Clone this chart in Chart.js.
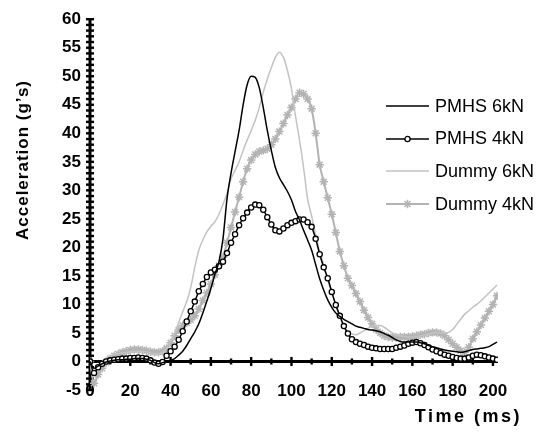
<!DOCTYPE html>
<html><head><meta charset="utf-8">
<script src="https://cdn.jsdelivr.net/npm/chart.js@4.4.1/dist/chart.umd.min.js"></script>
<style>
html,body{margin:0;padding:0;background:#fff;}
#wrap{position:relative;width:538px;height:433px;overflow:hidden;font-family:"Liberation Sans",Arial,sans-serif;color:#000;}
#c{position:absolute;left:0;top:0;}
#ytitle{position:absolute;left:23px;top:160px;transform:translate(-50%,-50%) rotate(-90deg);white-space:nowrap;font-weight:bold;font-size:17px;letter-spacing:1px;}
#xtitle{position:absolute;right:16px;top:406px;font-weight:bold;font-size:18px;letter-spacing:2.5px;white-space:nowrap;}
.leg{position:absolute;left:386px;height:22px;display:flex;align-items:center;font-size:18px;white-space:nowrap;}
.leg svg{margin-right:6px;}
</style></head>
<body>
<div id="wrap">
<canvas id="c" width="538" height="433"></canvas>
<div id="ytitle">Acceleration (g’s)</div>
<div id="xtitle">Time (ms)</div>
<div id="legend"></div>
</div>
<script>
// ---- data ----
const seriesNames = ['PMHS 6kN', 'PMHS 4kN', 'Dummy 6kN', 'Dummy 4kN'];
const timeMs = [
  0,2,4,6,8,10,12,14,16,18,
  20,22,24,26,28,30,32,34,36,38,
  40,42,44,46,48,50,52,54,56,58,
  60,62,64,66,68,70,72,74,76,78,
  80,82,84,86,88,90,92,94,96,98,
  100,102,104,106,108,110,112,114,116,118,
  120,122,124,126,128,130,132,134,136,138,
  140,142,144,146,148,150,152,154,156,158,
  160,162,164,166,168,170,172,174,176,178,
  180,182,184,186,188,190,192,194,196,198,
  200,202];
const pmhs6 = [
  0,-1.2,-0.8,-0.4,-0.1,0.1,0.2,0.3,0.3,0.4,
  0.4,0.5,0.5,0.5,0.4,0.2,-0.2,-0.4,-0.2,0,
  0.2,0.5,1.1,1.8,2.8,4,5.2,6.6,8.5,10.6,
  12.8,15.3,17.5,21.5,28.5,33,36.8,40.5,45,48.5,
  50,49.8,48,44.5,40.5,37,34,32.2,31,29.8,
  28.3,26.3,24.8,23,21.3,19.5,17,14.5,12.5,10.8,
  9.5,8.5,7.9,7.4,7,6.6,6.2,6,5.8,5.6,
  5.5,5.4,5.2,4.9,4.6,4.2,3.8,3.5,3.4,3.4,
  3.4,3.4,3.3,3.1,2.8,2.6,2.4,2.2,2,1.9,
  1.8,1.7,1.6,1.7,1.9,2.1,2.2,2.3,2.4,2.6,
  3,3.4];
const pmhs4 = [
  0,-2,-1,-0.4,0,0.2,0.3,0.4,0.5,0.5,
  0.6,0.6,0.7,0.6,0.5,0.2,-0.2,-0.4,-0.1,1,
  1.8,2.6,3.8,5.3,7,8.8,10.5,12.3,13.6,14.8,
  15.6,16.1,16.7,17.5,19,20.8,22.3,23.9,25.1,26.1,
  27,27.5,27.4,26.6,25.3,24,23,22.8,23.3,23.9,
  24.3,24.6,24.9,24.9,24.4,23.6,21.5,18.8,16.5,14.6,
  12.2,9.9,8,6.2,4.9,3.9,3.4,3.1,2.9,2.6,
  2.4,2.3,2.2,2.2,2.2,2.2,2.4,2.6,2.8,3.1,
  3.3,3.4,3.2,2.9,2.5,2.1,1.8,1.5,1.2,1,
  0.8,0.6,0.5,0.5,0.7,1,1.2,1.1,0.9,0.7,
  0.5,0.3];
const dummy6 = [
  0,-2,-1,0,0.6,1,1.2,1.4,1.5,1.6,
  1.7,1.8,1.8,1.8,1.7,1.5,1.3,1.3,1.6,2.3,
  3.5,5,6.8,8.7,10.5,13,16.5,19.5,21.3,22.7,
  23.7,24.5,25.8,27.5,29.5,32,33.5,35,37,38.8,
  40.5,42.3,44.5,47.2,49.5,51.5,53.3,54.2,53.3,51,
  47.8,43,38.8,34,28.5,25.5,22.2,19.3,17,14.3,
  12,10,7.9,6.3,5.1,4.8,4.7,5,5.4,5.8,
  6.2,6.3,6.3,6,5.5,5,4.7,4.5,4.4,4.3,
  4.3,4.4,4.5,4.7,4.8,5,5.1,5,5,5.1,
  5.6,6.5,7.4,8.3,8.9,9.5,10,10.6,11.3,12,
  12.7,13.4];
const dummy4 = [
  0,-3.8,-2.3,-1.2,-0.2,0.5,1,1.3,1.6,1.8,
  2,2.1,2.1,2,1.9,1.7,1.6,1.6,1.8,2.3,
  3.3,4.5,5.5,6.3,6.8,7.3,8,9.2,10.7,12,
  13.6,15.2,16.8,18.3,20.8,23.5,26.2,28.8,31.5,33.8,
  35.3,36.3,36.8,37,37.3,38,39,40.3,41.7,43.2,
  44.5,46,47.1,46.9,46,44.3,40,34.5,31.5,28.7,
  25.8,22.6,19.3,16.8,14.6,13.3,11.9,10.5,9,7.7,
  6.6,5.6,5,4.5,4.3,4.2,4.2,4.3,4.3,4.3,
  4.4,4.5,4.7,4.8,5,5.1,5.1,4.9,4.5,3.8,
  3.1,2.5,1.9,1.6,2.5,4,5.2,6.4,7.6,8.8,
  10,11.5];
const yTickValues = [-5,0,5,10,15,20,25,30,35,40,45,50,55,60];
const xTickValues = [0,20,40,60,80,100,120,140,160,180,200];
const xMinorTicks = [10,30,50,70,90,110,130,150,170,190];

// ---- styles ----
const BLACK = '#000000', LIGHT = '#c3c3c3', STAR = '#b3b3b3';
const FONT = 'Liberation Sans, Arial, sans-serif';
const styles = [
  {color: BLACK, width: 1.5, point: false},
  {color: BLACK, width: 1.5, point: 'circle', r: 2.6, fill: '#ffffff', pw: 1.3},
  {color: LIGHT, width: 1.5, point: false},
  {color: STAR, width: 2, point: 'star', r: 4.2, fill: STAR, pw: 1.5}
];
const values = [pmhs6, pmhs4, dummy6, dummy4];

const datasets = values.map((arr, i) => {
  const s = styles[i];
  return {
    label: seriesNames[i],
    data: timeMs.map((t, k) => ({x: t, y: arr[k]})),
    borderColor: s.color,
    borderWidth: s.width,
    pointRadius: s.point ? s.r : 0,
    pointStyle: s.point || 'circle',
    pointBackgroundColor: s.point ? s.fill : s.color,
    pointBorderColor: s.color,
    pointBorderWidth: s.pw || 1,
    fill: false,
    tension: 0.3,
    cubicInterpolationMode: 'monotone'
  };
});

const crossAxes = {
  id: 'crossAxes',
  beforeDatasetsDraw(chart) {
    const {ctx, scales: {x, y}} = chart;
    const x0 = x.getPixelForValue(0), y0 = y.getPixelForValue(0);
    ctx.save();
    ctx.strokeStyle = BLACK; ctx.fillStyle = BLACK;
    ctx.lineWidth = 3;
    ctx.beginPath();
    ctx.moveTo(x0, y.getPixelForValue(y.max));
    ctx.lineTo(x0, y.getPixelForValue(y.min));
    ctx.stroke();
    for (let v = y.min; v <= y.max; v += 1) {
      const py = y.getPixelForValue(v);
      ctx.fillRect(x0 - 4, py - 1.2, 8, 2.4);
    }
    ctx.beginPath();
    ctx.moveTo(x0, y0);
    ctx.lineTo(x.getPixelForValue(x.max), y0);
    ctx.stroke();
    xTickValues.forEach(t => { if (t > 0) { const px = x.getPixelForValue(t); ctx.fillRect(px - 1.2, y0 - 4.5, 2.4, 9); } });
    xMinorTicks.forEach(t => { const px = x.getPixelForValue(t); ctx.fillRect(px - 1.2, y0 - 3, 2.4, 6); });
    ctx.restore();
  }
};

new Chart(document.getElementById('c'), {
  type: 'line',
  data: {datasets},
  options: {
    responsive: false,
    animation: false,
    events: [],
    layout: {padding: {left: 0, right: 40, top: 17, bottom: 0}},
    plugins: {legend: {display: false}, tooltip: {enabled: false}},
    scales: {
      x: {
        type: 'linear', min: 0, max: 202.5,
        grid: {display: false, drawTicks: false},
        border: {display: false},
        afterFit(s) { s.height = 43; },
        afterBuildTicks(s) { s.ticks = xTickValues.map(v => ({value: v})); },
        ticks: {color: BLACK, font: {family: FONT, size: 17, weight: 'bold'}, mirror: true, padding: -11.5, maxRotation: 0, autoSkip: false}
      },
      y: {
        type: 'linear', min: -5, max: 60,
        grid: {display: false, drawTicks: false},
        border: {display: false},
        afterFit(s) { s.width = 90; },
        afterBuildTicks(s) { s.ticks = yTickValues.map(v => ({value: v})); },
        ticks: {color: BLACK, font: {family: FONT, size: 17, weight: 'bold'}, padding: 9}
      }
    }
  },
  plugins: [crossAxes]
});

// ---- legend (HTML, overlaid on plot like the reference) ----
const legendTops = [106, 138.5, 171, 204];
const leg = document.getElementById('legend');
seriesNames.forEach((name, i) => {
  const s = styles[i];
  let marker = '';
  if (s.point === 'circle') marker = `<circle cx="21.5" cy="6" r="2.6" fill="#fff" stroke="${s.color}" stroke-width="1.3"/>`;
  if (s.point === 'star') marker = `<g stroke="${s.color}" stroke-width="1.5"><line x1="21.5" y1="1.8" x2="21.5" y2="10.2"/><line x1="17.3" y1="6" x2="25.7" y2="6"/><line x1="18.5" y1="3" x2="24.5" y2="9"/><line x1="18.5" y1="9" x2="24.5" y2="3"/></g>`;
  const div = document.createElement('div');
  div.className = 'leg';
  div.style.top = (legendTops[i] - 11) + 'px';
  div.innerHTML = `<svg width="43" height="12"><line x1="0" y1="6" x2="43" y2="6" stroke="${s.color}" stroke-width="${s.width}"/>${marker}</svg><span>${name}</span>`;
  leg.appendChild(div);
});
</script>
</body></html>
